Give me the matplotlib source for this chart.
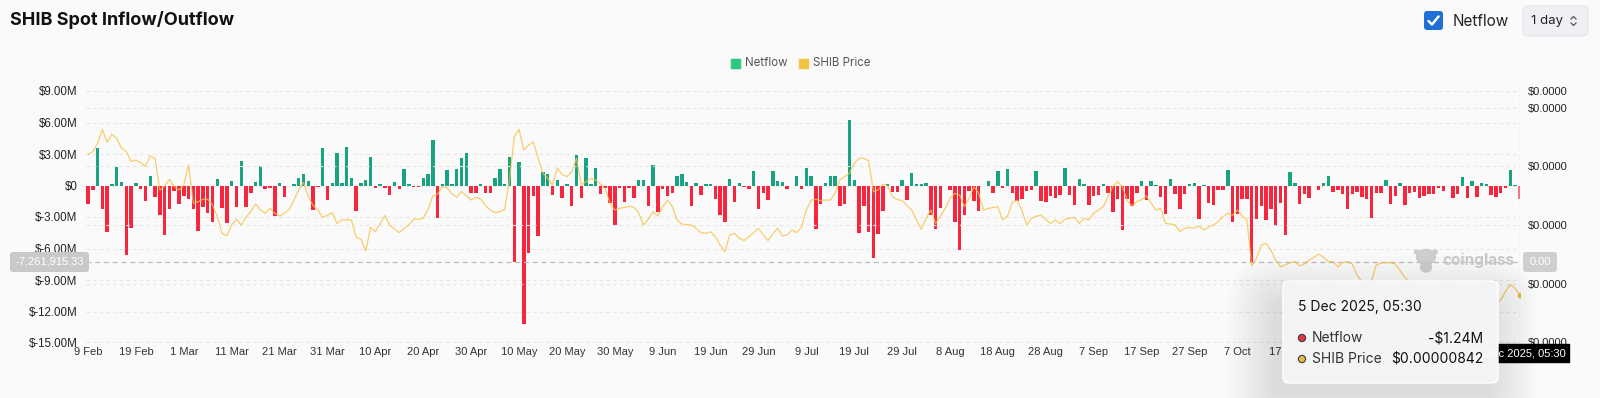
import matplotlib
matplotlib.use("Agg")
import matplotlib.pyplot as plt
from matplotlib.patches import FancyBboxPatch, Rectangle, Circle, Ellipse
import numpy as np
import pandas as pd

# ── Data ───────────────────────────────────────────────────────────────────────
START_DATE = "2025-02-09"
END_DATE = "2025-12-05"

# daily spot netflow, $M (9 Feb .. 5 Dec 2025)
netflow_m = [
    -1.8, -0.4, 3.6, -2.2, -4.4, 0.1, 1.8, 0.3, -6.6, -4.0,
    0.2, -0.3, -1.5, 0.9, -1.1, -2.8, -4.7, -2.2, -0.5, -1.8,
    -1.0, -1.3, -2.2, -4.3, -2.0, -2.6, -3.5, 0.6, -2.1, -3.6,
    0.4, -2.0, 2.3, -2.0, -0.7, 0.3, 1.9, -0.3, -0.25, -2.9,
    0.2, -1.1, 0.0, 0.1, 0.7, 1.1, 0.45, -2.3, -0.15, 3.6,
    -1.4, 0.2, 3.1, 0.2, 3.7, 0.7, -2.4, 0.2, 0.55, 2.7,
    -0.25, 0.1, -0.2, -0.9, 0.35, -0.3, 1.6, 0.1, -0.1, -0.1,
    0.7, 1.1, 4.3, -3.1, 0.1,
    1.47, 0.1, 1.53, 2.58, 3.05, -0.68, -0.68, 0.1, -0.68, -0.68,
    0.68, 1.53, 0.1, 2.74, -7.3, 2.26, -13.2, -6.44, -1.0, -4.8,
    1.31, 1.09, -0.9, 0.52, -1.22, 0.1, -1.95, 2.9, -1.22, 2.58,
    0.1, 1.69, -0.84, -0.24, -1.7, -3.75, -0.24, -1.53, -0.24, -1.22,
    0.52, 0.52, -1.95, 1.95, -2.48, -0.3, -0.97, -0.68, 0.93, 1.09,
    0.36, -1.95, 0.27, -0.9, 0.1, 0.1, -1.31, -2.8, -3.47, 0.58,
    -1.53, 0.2, -0.17, -0.3, 1.38, -2.23, -0.68, -1.38, 1.41, 0.46,
    0.36, -0.3, 0.0, 0.9, -0.3,
    1.69, 0.93, -4.13, -1.79, 0.2, 0.93, 0.93, -1.95, -1.79, 6.28,
    0.52, -4.54, -1.95, -4.45, -6.91, -4.6, -2.39, 0.14, -0.65, -0.6,
    0.52, -1.38, 1.22, 0.1, 0.1, 0.25, -2.8, -4.17, -2.11, 0.0,
    -0.43, -3.5, -6.12, -2.8, -0.55, -1.47, -2.39, 0.0, 0.43, -0.68,
    1.38, -0.2, 1.57, -0.68, -1.47, -1.31, -0.52, -0.43, 1.38, -1.44,
    -1.53, -1.0, -1.15, -0.9, 1.63, -0.9, -1.85, 0.62, 0.14, -1.85,
    -1.0, -0.9, 0.14, -0.68, -2.48, -1.31, -4.28, -1.31, -1.95, -0.68,
    0.43, -1.38, 0.43, 0.08, -1.12,
    -2.75, 0.62, -0.8, -2.2, -0.8, 0.14, 0.24, -3.17, 0.08, -1.63,
    -1.85, -0.43, -0.43, 1.47, -3.5, -2.74, -1.31, -1.31, -7.4, -3.2,
    -1.91, -3.3, -2.26, -3.81, -1.63, -4.7, 1.25, 0.2, -1.79, -0.8,
    -1.22, 0.0, -0.43, 0.27, 0.9, -0.62, -0.43, -0.8, -2.26, -0.8,
    -0.62, -1.12, -1.31, -3.05, -0.68, -0.68, 0.52, -1.75, -1.0, 0.2,
    -1.85, -0.68, -0.59, -1.22, -1.0, -0.8, -0.8, -0.24, -0.49, 0.0,
    -1.22, -0.8, 0.84, -1.22, 0.46, -1.12, 0.27, 0.14, -0.9, -1.12,
    -0.68, -0.24, 1.47, 0.08, -1.24,
]

# daily SHIB price, in millionths of a dollar
price_e6 = [
    15.62, 15.76, 16.19, 16.90, 16.24, 16.65, 16.44, 15.93, 15.76, 15.25,
    15.33, 15.20, 15.00, 15.54, 15.42, 13.79, 14.00, 14.34, 13.97, 13.79,
    14.05, 15.08, 13.11, 13.20, 13.32, 13.32, 13.03, 12.43, 11.57, 11.44,
    12.00, 12.29, 12.00, 12.40, 12.68, 13.08, 12.77, 12.60, 12.85, 12.60,
    12.46, 12.60, 12.80, 13.28, 13.80, 14.19, 13.45, 13.00, 12.77, 12.39,
    12.50, 12.63, 12.08, 12.26, 12.26, 12.26, 11.37, 11.26, 10.68, 11.88,
    11.66, 12.08, 12.48, 12.00, 11.80, 11.61, 11.83, 12.00, 12.29, 12.30,
    12.34, 12.80, 13.49, 13.59, 13.97,
    13.90, 13.60, 13.42, 13.71, 13.50, 13.28, 13.42, 13.32, 13.00, 12.77,
    12.63, 12.68, 12.80, 14.30, 16.50, 16.90, 15.85, 16.10, 16.25, 15.42,
    14.65, 14.40, 14.05, 14.91, 14.60, 14.48, 14.73, 15.42, 14.05, 14.22,
    14.39, 14.31, 14.10, 13.88, 13.11, 12.77, 12.85, 12.90, 12.97, 12.91,
    12.60, 12.00, 12.30, 12.68, 12.46, 12.94, 13.28, 12.94, 12.26, 12.05,
    12.02, 12.00, 11.83, 11.61, 11.57, 11.66, 11.40, 10.97, 10.63, 11.49,
    11.57, 11.32, 11.20, 11.40, 11.61, 11.83, 11.49, 11.20, 11.54, 11.83,
    11.44, 11.49, 11.74, 11.61, 11.90,
    12.77, 13.28, 13.32, 13.25, 13.28, 13.28, 13.62, 14.31, 14.48, 14.65,
    15.16, 15.42, 15.42, 15.30, 13.70, 13.80, 14.10, 14.00, 13.45, 13.30,
    13.25, 13.00, 12.77, 12.26, 11.78, 12.34, 12.77, 12.08, 12.46, 12.85,
    13.37, 13.62, 13.54, 12.94, 13.37, 13.97, 13.62, 12.77, 12.85, 12.90,
    12.94, 12.26, 12.46, 13.15, 13.28, 12.77, 12.00, 12.34, 12.45, 12.51,
    12.29, 12.08, 12.26, 12.08, 12.29, 12.35, 12.39, 12.08, 12.34, 12.26,
    12.60, 12.77, 12.94, 13.45, 13.97, 14.22, 13.97, 13.25, 12.97, 13.20,
    13.30, 13.49, 13.11, 12.77, 12.85,
    12.08, 12.05, 12.00, 11.66, 11.83, 11.88, 11.83, 11.95, 11.74, 11.90,
    12.00, 12.17, 12.43, 12.60, 12.50, 12.77, 12.46, 12.26, 9.90, 10.30,
    10.97, 11.06, 10.72, 10.20, 9.86, 9.95, 10.07, 10.12, 9.90, 10.00,
    10.20, 10.34, 10.51, 10.34, 10.12, 10.12, 9.86, 10.07, 10.12, 10.00,
    9.43, 9.10, 9.04, 9.13, 9.95, 10.05, 10.07, 10.07, 10.00, 9.66,
    9.30, 9.10, 8.90, 8.70, 8.60, 8.40, 8.30, 8.60, 8.50, 8.40,
    8.50, 8.60, 8.50, 8.30, 8.20, 8.30, 8.20, 8.10, 8.05, 8.00,
    8.15, 8.60, 8.95, 8.75, 8.42,
]

LEFT_TICKS = [-15, -12, -9, -6, -3, 0, 3, 6, 9]
RIGHT_TICKS_E6 = [6, 9, 12, 15, 18]
CROSSHAIR_NETFLOW = -7261915.33
HOVER_LABEL = "5 Dec 2025, 05:30"
LAST_VISIBLE_TICK = "2025-10-17"   # later date labels sit under the tooltip

# ── Style ──────────────────────────────────────────────────────────────────────
BG = "#FAFAFA"
GREEN = "#18A480"
RED = "#F7263F"
PRICE_COL = "#F7C24A"
GRID = "#E6E6E6"
W, H = 1600, 398
TICK_FONT = "Liberation Sans"
UI_FONT = ["Inter", "DejaVu Sans"]

dates = pd.date_range(START_DATE, END_DATE, freq="D")
days = np.arange(len(dates))
netflow = np.array(netflow_m)
price = np.array(price_e6) * 1e-6

fig = plt.figure(figsize=(W / 100, H / 100), dpi=100, facecolor=BG)

# plot area in pixels: x 86..1520, y 91..343
ax = fig.add_axes([86 / W, 1 - 343 / H, (1520 - 86) / W, (343 - 91) / H])
ax.set_facecolor("none")
for s in ax.spines.values():
    s.set_visible(False)

colors = [GREEN if v >= 0 else RED for v in netflow]
colors[-1] = "#F5727F"  # hovered bar
ax.bar(days, netflow, width=0.72, color=colors, zorder=2)

ax.set_xlim(-0.42, days[-1] + 0.02)
ax.set_ylim(LEFT_TICKS[0], LEFT_TICKS[-1])
ax.set_yticks(LEFT_TICKS)
ax.set_yticklabels(["$0" if v == 0 else f"${v:.2f}M" for v in LEFT_TICKS])
ax.grid(axis="y", color=GRID, lw=0.8, linestyle=(0, (3, 3)), zorder=0)
ax.set_axisbelow(True)

tick_dates = [d for d in dates[::10] if d <= pd.Timestamp(LAST_VISIBLE_TICK)]
ax.set_xticks(days[::10][:len(tick_dates)])
ax.set_xticklabels([f"{d.day} {d.strftime('%b')}" for d in tick_dates])
ax.tick_params(axis="x", length=0, pad=3, labelsize=8, labelcolor="#333333")
ax.tick_params(axis="y", length=0, pad=6, labelsize=8.3, labelcolor="#222222")
for lbl in ax.get_xticklabels() + ax.get_yticklabels():
    lbl.set_fontfamily(TICK_FONT)

# crosshair
ax.axhline(CROSSHAIR_NETFLOW / 1e6, color="#BDBDBD", lw=0.9, linestyle=(0, (4, 3)), zorder=3)
ax.axvline(days[-1], color="#C4C4C4", lw=0.9, linestyle=(0, (4, 3)), zorder=3)

# price on right axis
ax2 = ax.twinx()
ax2.set_facecolor("none")
for s in ax2.spines.values():
    s.set_visible(False)
ax2.plot(days, price, color=PRICE_COL, lw=0.9, alpha=0.8, solid_joinstyle="round", zorder=4)
ax2.plot(days[-1:], price[-1:], "o", ms=3, color="#E9B949", zorder=5)
top_e6 = 18.87
ax2.set_ylim(5.95e-6, top_e6 * 1e-6)
rt = [v * 1e-6 for v in RIGHT_TICKS_E6] + [top_e6 * 1e-6]
ax2.set_yticks(rt)
ax2.set_yticklabels(["$0.0000"] * len(rt))
ax2.tick_params(axis="y", length=0, pad=6, labelsize=8, labelcolor="#222222")
for lbl in ax2.get_yticklabels():
    lbl.set_fontfamily(TICK_FONT)
ax2.grid(axis="y", color=GRID, lw=0.8, linestyle=(0, (3, 3)), zorder=0)

# ── Overlay in pixel coordinates (title, legend, controls, tooltip) ────────────
ov = fig.add_axes([0, 0, 1, 1], zorder=10)
ov.set_xlim(0, W)
ov.set_ylim(H, 0)
ov.axis("off")

ov.text(10, 20, "SHIB Spot Inflow/Outflow", fontsize=13, fontweight="bold",
        family=UI_FONT, color="#111111", va="center", ha="left")

# legend
ov.add_patch(Rectangle((731, 59), 9, 9, color="#2BC77F"))
ov.text(745, 63.5, "Netflow", fontsize=8.3, family=UI_FONT, color="#555555", va="center")
ov.add_patch(Rectangle((799, 59), 9, 9, color="#F5C342"))
ov.text(813, 63.5, "SHIB Price", fontsize=8.3, family=UI_FONT, color="#555555", va="center")

# checkbox + select
ov.add_patch(FancyBboxPatch((1424, 11), 19, 19, boxstyle="round,pad=0,rounding_size=3",
                            fc="#1F6FD6", ec="none"))
ov.plot([1428.5, 1432, 1438.5], [21, 24.5, 16.5], color="white", lw=1.8,
        solid_capstyle="round", solid_joinstyle="round")
ov.text(1453, 21, "Netflow", fontsize=11, family=UI_FONT, color="#222222", va="center")
ov.add_patch(FancyBboxPatch((1523, 6), 65, 30, boxstyle="round,pad=0,rounding_size=5",
                            fc="#EEF0F3", ec="#E4E6EA", lw=0.8))
ov.text(1531, 21, "1 day", fontsize=9.5, family=UI_FONT, color="#222222", va="center")
ov.plot([1571, 1573.5, 1576], [19, 16.5, 19], color="#555555", lw=0.9)
ov.plot([1571, 1573.5, 1576], [23, 25.5, 23], color="#555555", lw=0.9)

# crosshair value boxes
ov.add_patch(FancyBboxPatch((10, 252), 79, 20, boxstyle="round,pad=0,rounding_size=3",
                            fc="#C9C9C9", ec="none"))
ov.text(49.5, 262, f"{CROSSHAIR_NETFLOW:,.2f}", fontsize=8, family=TICK_FONT,
        color="white", ha="center", va="center")
ov.add_patch(FancyBboxPatch((1523, 252), 34, 20, boxstyle="round,pad=0,rounding_size=3",
                            fc="#CFCFCF", ec="none"))
ov.text(1540, 262, "0.00", fontsize=8, family=TICK_FONT, color="white",
        ha="center", va="center")

# tooltip geometry
tx, ty, tw, th = 1283, 281, 215, 102

ov.add_patch(Rectangle((1467, 344), 102, 18, color="#000000"))
date_tag = ov.text(1569 - 3, 353, HOVER_LABEL, fontsize=8, family=TICK_FONT, color="white",
                   ha="right", va="center")
clip = Rectangle((tx + tw, 340), 120, 30, transform=ov.transData, visible=False)
ov.add_patch(clip)
date_tag.set_clip_path(clip)

# watermark
ov.add_patch(Ellipse((1426, 257), 19, 15, color="#CBCBCB", alpha=0.9))
ov.add_patch(Ellipse((1426, 267), 11, 10, color="#CBCBCB", alpha=0.9))
ov.add_patch(Ellipse((1417, 252), 5, 4, color="#CBCBCB", alpha=0.9))
ov.add_patch(Ellipse((1435, 252), 5, 4, color="#CBCBCB", alpha=0.9))
ov.text(1442, 260, "coinglass", fontsize=11, fontweight="bold", family=UI_FONT,
        color="#C6C6C6", va="center", alpha=0.95)

# tooltip with soft shadow
for i in range(10):
    g = 2 + i * 5
    ov.add_patch(FancyBboxPatch((tx - g - 8, ty - g + 22), tw + 2 * g, th + 2 * g - 10,
                                boxstyle=f"round,pad=0,rounding_size={6 + g}",
                                fc="#000000", ec="none", alpha=0.011))
ov.add_patch(FancyBboxPatch((tx, ty), tw, th, boxstyle="round,pad=0,rounding_size=6",
                            fc="#F3F4F6", ec="#FFFFFF", lw=1.0))
ov.text(tx + 15, 307, HOVER_LABEL, fontsize=10, family=UI_FONT, color="#111111", va="center")
ov.add_patch(Circle((tx + 19, 338), 3.6, fc="#E8343F", ec="#3A3A3A", lw=0.8))
ov.text(tx + 29, 338, "Netflow", fontsize=10, family=UI_FONT, color="#333333", va="center")
ov.text(tx + 200, 338, f"-${abs(netflow[-1]):.2f}M", fontsize=10, family=UI_FONT,
        color="#111111", va="center", ha="right")
ov.add_patch(Circle((tx + 19, 359), 3.6, fc="#E9B949", ec="#3A3A3A", lw=0.8))
ov.text(tx + 29, 359, "SHIB Price", fontsize=10, family=UI_FONT, color="#333333", va="center")
ov.text(tx + 200, 359, f"${price[-1]:.8f}", fontsize=10, family=UI_FONT,
        color="#111111", va="center", ha="right")

fig.savefig("out.png", dpi=100, facecolor=BG)
